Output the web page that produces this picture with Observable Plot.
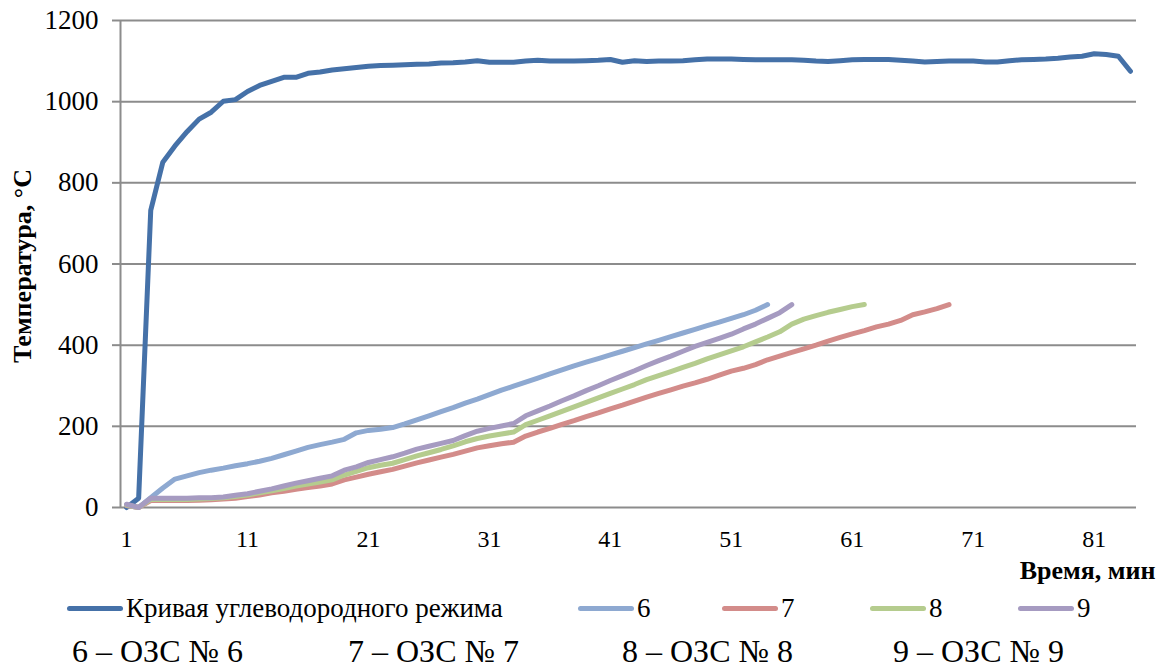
<!DOCTYPE html>
<html><head><meta charset="utf-8">
<script src="https://cdn.jsdelivr.net/npm/d3@7"></script>
<script src="https://cdn.jsdelivr.net/npm/@observablehq/plot@0.6"></script>
<style>
body{margin:0;background:#fff;font-family:"Liberation Serif",Tinos,"Times New Roman","DejaVu Serif","Noto Serif",FreeSerif,serif;color:#000;}
#wrap{position:relative;width:1161px;height:668px;overflow:hidden;}
.leg{position:absolute;top:593px;height:30px;display:flex;align-items:center;font-size:27px;line-height:30px;white-space:nowrap;}
.sw{display:inline-block;width:56px;height:5px;border-radius:3px;margin-right:3px;}
.cap{position:absolute;top:633px;font-size:32px;line-height:36px;white-space:nowrap;}
svg text{font-family:"Liberation Serif",Tinos,"Times New Roman","DejaVu Serif","Noto Serif",FreeSerif,serif;}
</style></head><body><div id="wrap"></div>
<script>
const seriesNames = ["Кривая углеводородного режима", "6", "7", "8", "9"];
const seriesColors = ["#4571A8", "#8EA9D1", "#D38C8A", "#B5CC8E", "#A69BC1"];
const curveHC = [0,23,732,851,891,926,957,974,1001,1005,
  1025,1040,1050,1060,1060,1070,1073,1078,1081,1084,
  1087,1089,1090,1091,1092,1093,1095,1096,1098,1101,
  1097,1097,1097,1100,1102,1100,1100,1100,1101,1102,
  1104,1097,1101,1099,1100,1100,1101,1103,1105,1105,
  1105,1104,1103,1103,1103,1103,1102,1100,1099,1101,
  1103,1104,1104,1104,1102,1100,1098,1099,1100,1100,
  1100,1098,1098,1101,1103,1104,1105,1107,1110,1112,
  1118,1116,1112,1075];
const ozs6 = [5,0,24,48,70,78,86,92,97,103,
  108,114,121,130,139,148,155,161,168,184,
  190,193,197,206,216,226,236,246,257,267,
  278,289,299,309,319,329,339,349,358,367,
  376,385,394,403,412,421,430,439,448,457,
  466,475,486,500];
const ozs7 = [5,0,17,17,17,17,18,19,21,23,
  27,31,36,40,45,49,53,58,68,75,
  82,88,94,102,110,117,124,131,139,147,
  152,157,161,176,186,195,205,214,224,233,
  243,252,262,272,281,290,299,307,316,326,
  336,343,352,364,373,382,391,400,410,419,
  428,436,445,452,461,475,482,490,500];
const ozs8 = [6,0,20,20,20,20,21,22,24,27,
  31,36,41,47,53,58,63,68,80,89,
  98,104,109,118,127,135,143,152,162,170,
  176,181,186,204,215,226,237,248,259,270,
  281,292,303,315,325,335,345,355,366,376,
  386,396,408,420,433,452,464,473,481,488,
  495,500];
const ozs9 = [8,0,23,23,23,23,24,24,26,30,
  34,40,46,53,60,66,72,78,92,100,
  111,118,125,134,144,151,158,165,177,188,
  195,201,207,226,238,250,263,275,288,300,
  313,325,337,350,362,373,385,397,407,417,
  427,440,452,466,480,500];
const xTicks = [1, 11, 21, 31, 41, 51, 61, 71, 81];
const yTicks = [0, 200, 400, 600, 800, 1000, 1200];
const yTitle = "Температура, °С";
const xTitle = "Время, мин";
const captions = ["6 – ОЗС № 6", "7 – ОЗС № 7", "8 – ОЗС № 8", "9 – ОЗС № 9"];

const allSeries = [curveHC, ozs6, ozs7, ozs8, ozs9];
const tables = allSeries.map(arr => arr.map((v, i) => ({t: i + 1, v})));
const gridColor = "#8c8c8c";
const serif = "'Liberation Serif', Tinos, 'Times New Roman', 'DejaVu Serif', 'Noto Serif', serif";

const chart = Plot.plot({
  width: 1161, height: 595,
  marginLeft: 120, marginRight: 25, marginTop: 20, marginBottom: 88,
  x: {domain: [0.5, curveHC.length + 0.5]},
  y: {domain: [0, 1200]},
  style: {fontFamily: serif, background: "white", color: "#000"},
  marks: [
    Plot.gridY(yTicks, {stroke: gridColor, strokeOpacity: 1, strokeWidth: 2}),
    Plot.ruleX([0.5], {stroke: gridColor, strokeWidth: 2}),
    Plot.axisY(yTicks, {tickSize: 8, tickPadding: 14, fontSize: 27, stroke: gridColor, strokeWidth: 2, label: null, tickFormat: d => String(d)}),
    Plot.axisX(xTicks, {tickSize: 0, tickPadding: 22, fontSize: 24, label: null, tickFormat: d => String(d)}),
    ...tables.map((tb, k) => Plot.line(tb, {x: "t", y: "v", stroke: seriesColors[k], strokeWidth: 5, strokeLinejoin: "round", strokeLinecap: "round"})),
    Plot.text([yTitle], {frameAnchor: "left", text: d => d, dx: -98, dy: 2, rotate: -90, textAnchor: "middle", fontSize: 26, fontWeight: "bold"}),
    Plot.text([xTitle], {frameAnchor: "bottom-right", text: d => d, dx: 19, dy: 71, textAnchor: "end", fontSize: 26, fontWeight: "bold"})
  ]
});
const wrap = document.getElementById("wrap");
wrap.appendChild(chart);

const legLeft = [67, 578, 722, 870, 1018];
seriesNames.forEach((name, k) => {
  const d = document.createElement("div");
  d.className = "leg";
  d.style.left = legLeft[k] + "px";
  const sw = document.createElement("span");
  sw.className = "sw";
  sw.style.background = seriesColors[k];
  d.appendChild(sw);
  d.appendChild(document.createTextNode(name));
  wrap.appendChild(d);
});
const capLeft = [72, 348, 622, 893];
captions.forEach((c, k) => {
  const d = document.createElement("div");
  d.className = "cap";
  d.style.left = capLeft[k] + "px";
  d.textContent = c;
  wrap.appendChild(d);
});
</script></body></html>
